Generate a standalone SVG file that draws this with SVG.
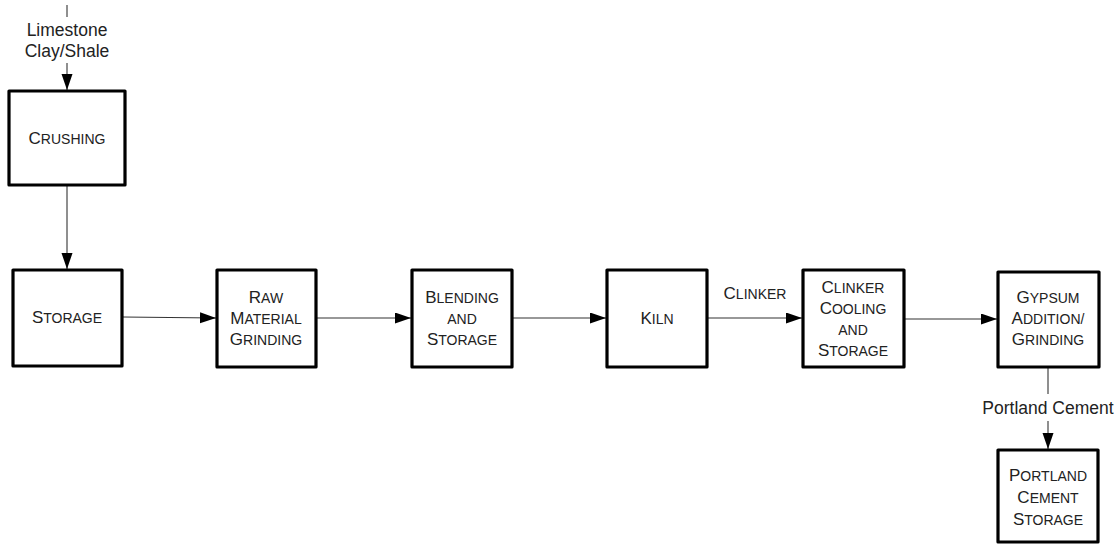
<svg xmlns="http://www.w3.org/2000/svg" width="1119" height="545" viewBox="0 0 1119 545">
  <style>
    .box { fill: #ffffff; stroke: #000000; stroke-width: 3.2; stroke-linejoin: round; }
    .name { font-family: "Liberation Sans", Arial, sans-serif; font-size: 14px; fill: #222222; text-anchor: middle; }
    .name .cap { font-size: 17px; }
    .flow { stroke: #333333; stroke-width: 1.1; fill: none; }
    .tag { font-family: "Liberation Sans", Arial, sans-serif; font-size: 17.5px; fill: #222222; text-anchor: middle; }
  </style>
  <defs>
    <marker id="head" markerUnits="userSpaceOnUse" markerWidth="17" markerHeight="12" refX="16" refY="5.5" orient="auto">
      <path d="M0,0 L16,5.5 L0,11 Z" fill="#000000"/>
    </marker>
  </defs>

  <!-- connectors -->
  <g id="connectors">
    <line class="flow" x1="67" y1="5" x2="67" y2="17"/>
    <line class="flow" x1="67" y1="63" x2="67" y2="90" marker-end="url(#head)"/>
    <line class="flow" x1="67" y1="186" x2="67" y2="269" marker-end="url(#head)"/>
    <line class="flow" x1="123" y1="317" x2="216" y2="318" marker-end="url(#head)"/>
    <line class="flow" x1="317" y1="318" x2="411" y2="318" marker-end="url(#head)"/>
    <line class="flow" x1="513" y1="318" x2="606" y2="318" marker-end="url(#head)"/>
    <line class="flow" x1="708" y1="318" x2="802" y2="318" marker-end="url(#head)"/>
    <line class="flow" x1="905" y1="319" x2="997" y2="319" marker-end="url(#head)"/>
    <line class="flow" x1="1048" y1="368" x2="1048" y2="394"/>
    <line class="flow" x1="1048" y1="421" x2="1048" y2="449" marker-end="url(#head)"/>
    <text class="tag" x="67" y="36">Limestone</text>
    <text class="tag" x="67" y="57">Clay/Shale</text>
    <text class="name" x="755" y="299"><tspan class="cap">C</tspan>LINKER</text>
    <text class="tag" x="1048" y="414">Portland Cement</text>
  </g>

  <!-- process steps -->
  <g id="crushing">
    <rect class="box" x="9" y="91" width="116" height="94"/>
    <text class="name" x="67" y="144"><tspan class="cap">C</tspan>RUSHING</text>
  </g>

  <g id="storage">
    <rect class="box" x="13" y="270" width="109" height="96"/>
    <text class="name" x="67" y="323"><tspan class="cap">S</tspan>TORAGE</text>
  </g>

  <g id="raw-material-grinding">
    <rect class="box" x="217" y="270" width="99" height="97"/>
    <text class="name" x="266" y="303"><tspan class="cap">R</tspan>AW</text>
    <text class="name" x="266" y="324"><tspan class="cap">M</tspan>ATERIAL</text>
    <text class="name" x="266" y="345"><tspan class="cap">G</tspan>RINDING</text>
  </g>

  <g id="blending-storage">
    <rect class="box" x="412" y="270" width="100" height="97"/>
    <text class="name" x="462" y="303"><tspan class="cap">B</tspan>LENDING</text>
    <text class="name" x="462" y="324">AND</text>
    <text class="name" x="462" y="345"><tspan class="cap">S</tspan>TORAGE</text>
  </g>

  <g id="kiln">
    <rect class="box" x="607" y="270" width="100" height="97"/>
    <text class="name" x="657" y="324"><tspan class="cap">K</tspan>ILN</text>
  </g>

  <g id="clinker-cooling">
    <rect class="box" x="803" y="270" width="101" height="97"/>
    <text class="name" x="853" y="293"><tspan class="cap">C</tspan>LINKER</text>
    <text class="name" x="853" y="314"><tspan class="cap">C</tspan>OOLING</text>
    <text class="name" x="853" y="335">AND</text>
    <text class="name" x="853" y="356"><tspan class="cap">S</tspan>TORAGE</text>
  </g>

  <g id="gypsum-grinding">
    <rect class="box" x="998" y="272" width="101" height="95"/>
    <text class="name" x="1048" y="303"><tspan class="cap">G</tspan>YPSUM</text>
    <text class="name" x="1048" y="324"><tspan class="cap">A</tspan>DDITION/</text>
    <text class="name" x="1048" y="345"><tspan class="cap">G</tspan>RINDING</text>
  </g>

  <g id="portland-cement-storage">
    <rect class="box" x="998" y="450" width="100" height="92"/>
    <text class="name" x="1048" y="481"><tspan class="cap">P</tspan>ORTLAND</text>
    <text class="name" x="1048" y="503"><tspan class="cap">C</tspan>EMENT</text>
    <text class="name" x="1048" y="525"><tspan class="cap">S</tspan>TORAGE</text>
  </g>
</svg>
